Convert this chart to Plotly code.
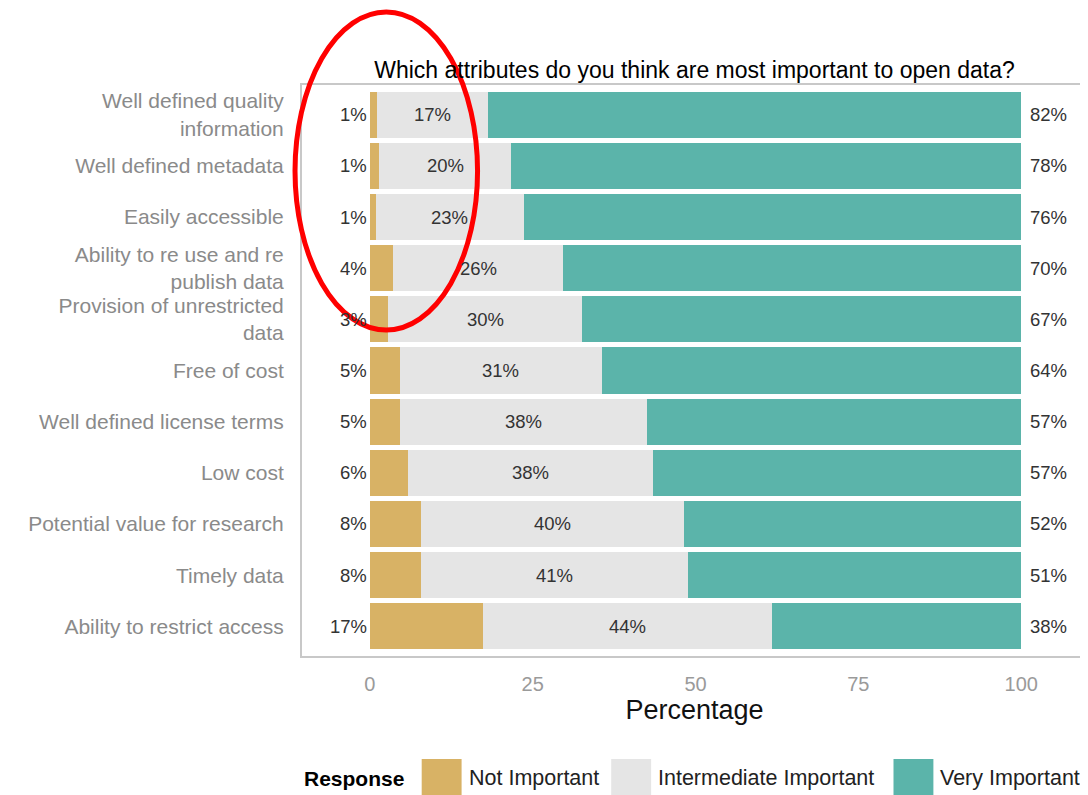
import plotly.graph_objects as go

categories = [
    "Well defined quality<br>information",
    "Well defined metadata",
    "Easily accessible",
    "Ability to re use and re<br>publish data",
    "Provision of unrestricted<br>data",
    "Free of cost",
    "Well defined license terms",
    "Low cost",
    "Potential value for research",
    "Timely data",
    "Ability to restrict access",
]
not_important = [1.1, 1.4, 0.9, 3.6, 2.8, 4.6, 4.7, 5.8, 7.8, 7.8, 17.3]
intermediate = [17.1, 20.3, 22.7, 26.1, 29.8, 31.0, 37.9, 37.6, 40.4, 41.1, 44.4]
very_important = [81.8, 78.3, 76.4, 70.3, 67.4, 64.4, 57.4, 56.6, 51.8, 51.1, 38.3]

series_names = ["Not Important", "Intermediate Important", "Very Important"]
colors = ["#D8B265", "#E5E5E5", "#5BB4AA"]

FONT = "Liberation Sans, Arial, sans-serif"

fig = go.Figure()
for name, vals, col in zip(series_names, [not_important, intermediate, very_important], colors):
    fig.add_trace(go.Bar(
        y=categories, x=vals, name=name, orientation="h",
        marker=dict(color=col, line=dict(width=0)),
        showlegend=False, hoverinfo="x+y+name",
    ))

annotations = []
for i, cat in enumerate(categories):
    a, b, c = not_important[i], intermediate[i], very_important[i]
    annotations.append(dict(x=0, y=cat, xref="x", yref="y", text=f"{a:.0f}%",
                            xanchor="right", xshift=-1, showarrow=False,
                            font=dict(size=18.5, color="#333333", family=FONT)))
    annotations.append(dict(x=a + b / 2, y=cat, xref="x", yref="y", text=f"{b:.0f}%",
                            xanchor="center", showarrow=False,
                            font=dict(size=18.5, color="#333333", family=FONT)))
    annotations.append(dict(x=a + b + c, y=cat, xref="x", yref="y", text=f"{c:.0f}%",
                            xanchor="left", xshift=7, showarrow=False,
                            font=dict(size=18.5, color="#333333", family=FONT)))

# page offset of the rendered figure inside the browser window
OFF = 8
# plot area in screenshot pixels
L, T, R, B = 302.0, 85.0, 1089.0, 656.0
W, H = R - L, B - T
def px(xp):
    return (xp - L) / W
def py(yp):
    return (B - yp) / H

annotations.append(dict(x=px(302), y=py(778), xref="paper", yref="paper", text="<b>Response</b>",
                        xanchor="left", yanchor="middle", showarrow=False,
                        font=dict(size=21, color="#000000", family=FONT)))
leg_boxes = [(422, 467), (612, 657), (895, 940)]
shapes = []
for (bx, tx), name, col in zip(leg_boxes, series_names, colors):
    shapes.append(dict(type="rect", xref="paper", yref="paper",
                       x0=px(bx), x1=px(bx + 40), y0=py(759), y1=py(805),
                       fillcolor=col, line=dict(width=0), layer="above"))
    annotations.append(dict(x=px(tx), y=py(778), xref="paper", yref="paper", text=name,
                            xanchor="left", yanchor="middle", showarrow=False,
                            font=dict(size=21.5, color="#222222", family=FONT)))

# red highlight ellipse
shapes.append(dict(type="circle", xref="paper", yref="paper",
                   x0=px(295), x1=px(478), y0=py(330), y1=py(12),
                   line=dict(color="#FF0000", width=5), fillcolor="rgba(0,0,0,0)", layer="above"))

fig.update_layout(
    width=1088, height=795,
    margin=dict(l=L - OFF, r=1088 - (R - OFF), t=T - OFF, b=795 - (B - OFF)),
    barmode="stack", bargap=0.1,
    paper_bgcolor="white", plot_bgcolor="white",
    font=dict(family=FONT),
    title=dict(text="Which attributes do you think are most important to open data?",
               x=0.5, xref="paper", y=1 - (70 - OFF) / 795, yref="container", yanchor="middle",
               font=dict(size=23, color="#000000", family=FONT)),
    annotations=annotations,
    shapes=shapes,
    xaxis=dict(range=[-10.41, 110.1], tickvals=[0, 25, 50, 75, 100],
               ticktext=["0", "25", "50", "75", "100"],
               showgrid=False, zeroline=False,
               minor=dict(tickvals=[12.5, 37.5, 62.5, 87.5], showgrid=True,
                          gridcolor="rgba(255,255,255,0.55)", gridwidth=1),
               layer="above traces",
               showline=True, linecolor="#C8C8C8", linewidth=2, mirror=True,
               ticks="", ticklabelstandoff=9,
               tickfont=dict(size=20, color="#9A9A9A", family=FONT),
               title=dict(text="Percentage", standoff=3,
                          font=dict(size=27, color="#111111", family=FONT))),
    yaxis=dict(categoryorder="array", categoryarray=categories,
               range=[10.58, -0.58], showgrid=False, zeroline=False,
               showline=True, linecolor="#C8C8C8", linewidth=2, mirror=True,
               ticks="", ticklabelstandoff=12,
               tickfont=dict(size=21, color="#8A8A8A", family=FONT)),
)

fig.write_html("out.html")
